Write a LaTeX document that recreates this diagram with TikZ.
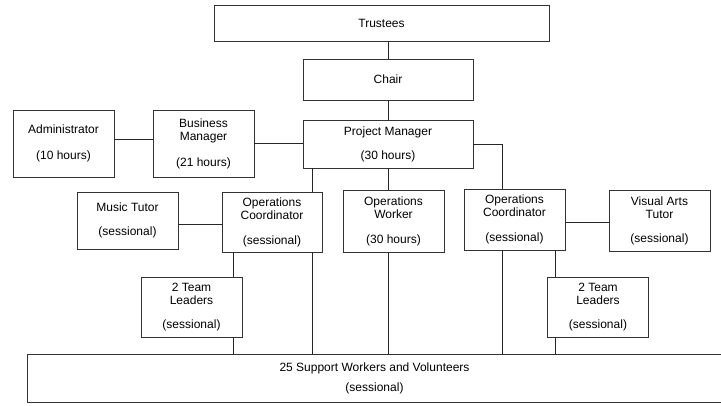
\documentclass[tikz,border=0pt]{standalone}
\usepackage{fontspec}
\setmainfont{Liberation Sans}
\usepackage{tikz}

\begin{document}
\begin{tikzpicture}[x=1pt,y=-1pt,
  post/.style={draw=black!80,line width=0.8pt,fill=white,align=center,inner sep=0pt,
    font=\fontsize{12}{13}\selectfont},
  link/.style={draw=black!85,line width=0.8pt}]
\useasboundingbox (0,0) rectangle (721,405);
\pgfmathsetmacro\tw{101}

\node[post,minimum width=335,minimum height=36] (trustees) at (381.5,23) {Trustees};
\node[post,minimum width=170,minimum height=41] (chair) at (388,79.5) {Chair};
\node[post,minimum width=170,minimum height=48] (pm) at (388,144) {Project Manager\\[11pt](30 hours)};
\node[post,minimum width=\tw,minimum height=67] (admin) at (63.5,143.5) {Administrator\\[13pt](10 hours)};
\node[post,minimum width=\tw,minimum height=67] (bm) at (203.5,143.5) {Business\\Manager\\[13pt](21 hours)};

\node[post,minimum width=\tw,minimum height=57] (music) at (127.5,220.5) {Music Tutor\\[11pt](sessional)};
\node[post,minimum width=100,minimum height=60] (opsl) at (272,222) {Operations\\Coordinator\\[12pt](sessional)};
\node[post,minimum width=\tw,minimum height=62] (worker) at (393.5,221) {Operations\\Worker\\[12pt](30 hours)};
\node[post,minimum width=\tw,minimum height=61] (opsr) at (514.5,219.5) {Operations\\Coordinator\\[12pt](sessional)};
\node[post,minimum width=\tw,minimum height=61] (visual) at (659.5,220.5) {Visual Arts\\Tutor\\[11pt](sessional)};

\node[post,minimum width=\tw,minimum height=60] (teaml) at (191.5,307) {2 Team\\Leaders\\[11pt](sessional)};
\node[post,minimum width=\tw,minimum height=60] (teamr) at (598,307) {2 Team\\Leaders\\[11pt](sessional)};
\node[post,minimum width=695,minimum height=48] (support) at (374.5,378) {25 Support Workers and Volunteers\\[7pt](sessional)};

% top of the tree
\draw[link] (chair.north) -- (chair.north |- trustees.south);
\draw[link] (chair.south) -- (pm.north);
\draw[link] ([yshift=4.5]admin.east) -- ([yshift=4.5]bm.west);
\draw[link] (bm.east) -- (bm.east -| pm.west);
\draw[link] (pm.east) -| ([xshift=-12.5]opsr.north);

% down from the project manager
\draw[link] ([xshift=10]pm.south west) -- ([xshift=10]pm.south west |- opsl.north);
\draw[link] ([xshift=10]pm.south west |- opsl.south) -- ([xshift=10]pm.south west |- support.north);
\draw[link] (pm.south) -- (pm.south |- worker.north);
\draw[link] (pm.south |- worker.south) -- (pm.south |- support.north);

% left coordinator
\draw[link] ([yshift=-3.5]music.east) -- ([yshift=-3.5]music.east -| opsl.west);
\draw[link] ([xshift=12]opsl.south west) -- ([xshift=12]opsl.south west |- teaml.north);
\draw[link] ([xshift=12]opsl.south west |- teaml.south) -- ([xshift=12]opsl.south west |- support.north);

% right coordinator
\draw[link] ([yshift=-2.5]opsr.east) -- ([yshift=-2.5]opsr.east -| visual.west);
\draw[link] ([xshift=-12.5]opsr.south) -- ([xshift=-12.5]opsr.south |- support.north);
\draw[link] ([xshift=-10]opsr.south east) -- ([xshift=-10]opsr.south east |- teamr.north);
\draw[link] ([xshift=-10]opsr.south east |- teamr.south) -- ([xshift=-10]opsr.south east |- support.north);
\end{tikzpicture}
\end{document}
